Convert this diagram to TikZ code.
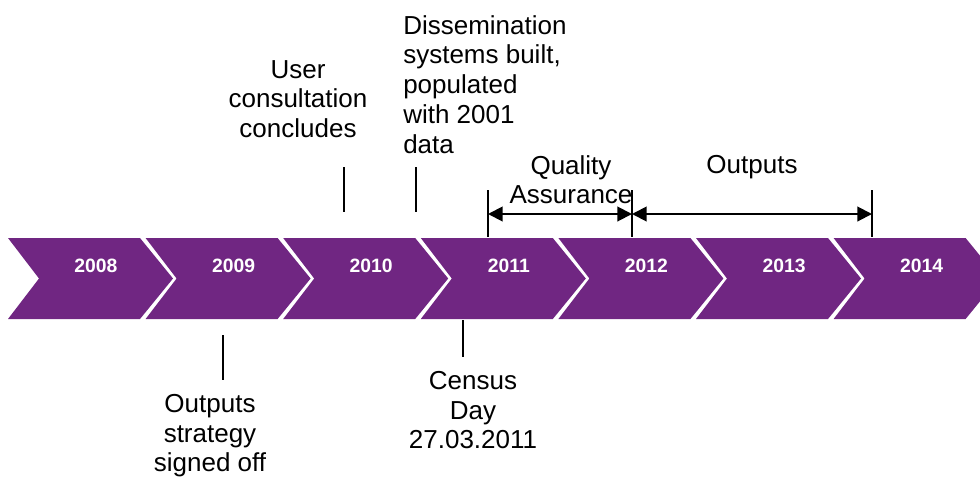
\documentclass[tikz,border=0pt]{standalone}
\usepackage{fontspec}
\setmainfont{Liberation Sans}
\usetikzlibrary{arrows.meta}
\definecolor{chevpurple}{RGB}{112,38,130}
\tikzset{
  chevron/.style={fill=chevpurple},
  yearlabel/.style={text=white,font=\fontsize{14.5}{17}\selectfont\bfseries},
  note/.style={font=\fontsize{19.5}{22.3}\selectfont,inner sep=0pt,align=center,anchor=north},
  tickline/.style={line width=1.5pt},
  spanarrow/.style={line width=1.5pt,{Triangle[length=11pt,width=11pt]}-{Triangle[length=11pt,width=11pt]}}
}
\begin{document}
\begin{tikzpicture}[x=0.75pt,y=-0.75pt]
\useasboundingbox (0,0) rectangle (980,479);
\clip (0,0) rectangle (980,479);

% the years
\foreach \yr [count=\i from 0] in {2008,...,2014}{
  \pgfmathsetmacro{\L}{8+137.6*\i}
  \fill[chevron] (\L,238) -- ++(132,0) -- ++(33,40.5) -- ++(-33,40.5) -- ++(-132,0) -- ++(31,-40.5) -- cycle;
  \node[yearlabel] (y\yr) at (\L+88,266) {\yr};
}

% events above
\node[note] (user) at (298,60) {User\\consultation\\concludes};
\node[note,align=left,anchor=north west] (dissem) at (403,15) {Dissemination\\systems built,\\populated\\with 2001\\data};
\coordinate (userTop) at (344,167);
\coordinate (userBot) at (344,212);
\coordinate (dissemTop) at (416,167);
\coordinate (dissemBot) at (416,212);
\draw[tickline] (userTop) -- (userBot);
\draw[tickline] (dissemTop) -- (dissemBot);

% phases
\node[note] (qa) at (571,155) {Quality\\Assurance};
\node[note] (outp) at (752,155) {Outputs};
\coordinate (qaTop) at (488,190);   \coordinate (qaBot) at (488,237);
\coordinate (midTop) at (632,190);  \coordinate (midBot) at (632,237);
\coordinate (outTop) at (872,190);  \coordinate (outBot) at (872,237);
\coordinate (qaA) at (488,214);
\coordinate (midA) at (632,214);
\coordinate (outA) at (872,214);
\draw[tickline] (qaTop) -- (qaBot);
\draw[tickline] (midTop) -- (midBot);
\draw[tickline] (outTop) -- (outBot);
\draw[spanarrow] (qaA) -- (midA);
\draw[spanarrow] (midA) -- (outA);

% events below
\node[note] (strat) at (210,394) {Outputs\\strategy\\signed off};
\node[note] (census) at (473,371) {Census\\Day\\27.03.2011};
\coordinate (stratTop) at (223,335);
\coordinate (stratBot) at (223,380);
\coordinate (censusTop) at (463,320);
\coordinate (censusBot) at (463,357);
\draw[tickline] (stratTop) -- (stratBot);
\draw[tickline] (censusTop) -- (censusBot);

\end{tikzpicture}
\end{document}
